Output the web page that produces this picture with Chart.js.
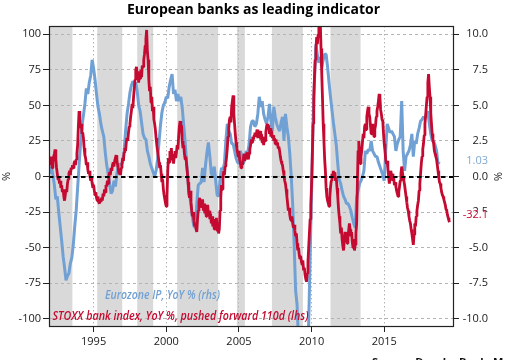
<!DOCTYPE html>
<html><head><meta charset="utf-8">
<script src="https://cdn.jsdelivr.net/npm/chart.js@4"></script>
<style>html,body{margin:0;padding:0;background:#fff}canvas{display:block}</style>
</head><body>
<canvas id="c" width="512" height="360"></canvas>
<script>
const chartTitle = "European banks as leading indicator";
const blueLegend = "Eurozone IP, YoY % (rhs)";
const redLegend = "STOXX bank index, YoY %, pushed forward 110d (lhs)";
const sourceText = "Source: Danske Bank, Macrobond";
const yearTicks = [1995, 2000, 2005, 2010, 2015];
const lhsTicks = [-100, -75, -50, -25, 0, 25, 50, 75, 100];
const rhsTicks = [-10, -7.5, -5, -2.5, 0, 2.5, 5, 7.5, 10];
const bandStarts = [1991.9, 1995.25, 1998.0, 2000.75, 2004.86, 2007.27, 2011.3];
const bandEnds   = [1993.54, 1996.97, 1999.1, 2003.57, 2005.41, 2009.4, 2013.37];

// STOXX bank index YoY %, pushed forward 110d (lhs), every 0.05 yr from 1991.95
const redStart = 1991.95, redStep = 0.05;
const redValues = [
 10,
 14,8,12,6,10,14,16,19,12,6,2,-2,0,-5,-3,-8,-6,-11,-9,-14,
 -17,-13,-9,-11,-5,-2,2,4,1,6,5,8,6,9,11,8,12,16,22,35,
 46,38,34,37,30,31,27,20,15,13,8,10,5,2,4,0,-3,0,-5,-8,
 -6,-10,-13,-11,-15,-17,-14,-18,-19,-16,-18,-15,-17,-12,-14,-9,-11,-6,-7,-3,
 -5,0,3,1,6,4,8,10,7,11,13,15,12,8,5,2,4,1,6,9,
 13,11,17,20,18,24,27,25,31,35,37,42,46,51,48,56,62,68,75,77,
 71,74,66,72,69,75,70,78,77,82,86,92,97,103,88,82,68,60,63,52,
 56,46,49,40,37,33,27,22,18,14,10,6,8,2,-4,-2,-9,-13,-16,-19,
 -21,-14,4,13,10,18,14,20,12,16,9,14,18,13,17,22,19,28,35,39,
 31,36,25,20,22,16,12,14,8,3,-4,-12,-15,-10,-18,-24,-28,-25,-31,-35,
 -33,-37,-39,-30,-24,-18,-15,-20,-17,-22,-16,-24,-19,-26,-21,-28,-23,-20,-27,-24,
 -30,-26,-33,-28,-35,-30,-37,-32,-36,-29,-38,-34,-40,-37,-24,-15,-6,-9,-2,4,
 1,7,9,14,20,28,34,40,42,38,49,53,57,44,37,30,24,20,17,14,
 18,12,9,6,10,8,12,16,11,15,13,17,14,12,16,19,22,26,24,28,
 26,29,31,28,30,33,27,31,29,32,26,30,24,28,22,27,25,31,35,37,
 33,36,30,34,28,32,27,29,25,27,23,26,22,24,20,21,18,14,11,9,
 8,4,1,-3,-5,-9,-14,-19,-24,-22,-27,-30,-31,-28,-33,-36,-34,-38,-42,-40,
 -47,-52,-50,-55,-58,-56,-60,-62,-59,-66,-64,-69,-72,-74,-68,-60,-50,-40,-30,-20,
 -5,15,37,55,70,82,90,98,93,100,104,110,108,90,72,55,37,25,12,4,
 -8,-14,-17,-19,-21,-15,-8,-3,2,-1,4,0,3,-3,-1,-8,-14,-22,-28,-33,
 -40,-36,-44,-49,-52,-45,-39,-44,-40,-47,-42,-38,-33,-37,-42,-39,-46,-50,-44,-52,
 -48,-40,-33,-5,18,25,16,9,14,18,24,30,27,35,37,33,42,46,49,44,
 42,36,30,34,37,31,28,33,36,42,46,49,53,58,56,47,44,40,39,30,
 23,18,12,9,11,6,0,-5,-2,4,1,2,-3,-1,-6,-4,-7,-10,-12,-14,
 -11,-7,-3,2,7,3,-1,-3,-6,-10,-14,-18,-22,-24,-28,-31,-33,-37,-40,-44,
 -48,-41,-33,-35,-28,-24,-20,-17,-10,-5,2,9,14,19,23,29,37,43,50,56,
 66,72,63,56,45,37,30,26,23,18,16,14,12,8,4,0,-4,-5,-8,-11,
 -13,-14,-16,-18,-20,-23,-24,-27,-29,-31,-32.1
];

// Eurozone IP YoY % (rhs), every 0.1 yr from 1992.0
const blueStart = 1992.0, blueStep = 0.1;
const blueValues = [
 0.2,0.7,0.1,-0.6,-1.6,-1.4,-2.5,-3.5,-4.5,-5.6,
 -6.4,-7.3,-7.0,-6.8,-6.1,-5.7,-4.8,-3.5,-2.4,-0.8,
 0.8,2.3,3.6,4.3,5.1,6.2,5.8,6.6,7.1,8.2,
 7.6,6.8,5.8,4.9,4.4,3.7,3.2,2.8,1.7,0.8,
 0.2,-0.5,-1.2,-1.0,-0.3,-0.7,0.2,0.7,0.9,0.8,
 1.0,1.8,3.2,4.4,5.1,5.9,6.4,6.7,6.5,6.6,
 6.0,5.0,4.6,3.8,3.0,2.7,2.6,1.8,1.4,0.9,
 0.6,0.3,0.0,0.4,1.2,2.4,3.6,4.5,5.0,5.2,
 5.6,5.5,6.3,6.8,7.2,5.8,6.1,5.3,5.8,5.3,
 5.6,4.8,3.6,2.4,1.0,-0.4,-1.2,-2.0,-2.9,-3.5,
 -3.6,-1.9,-0.6,-0.5,-0.4,0.6,-0.4,0.8,1.7,2.4,
 1.4,0.2,0.0,0.7,-0.3,-1.3,-1.4,-0.2,0.6,0.5,
 0.9,2.5,3.7,3.2,3.0,2.3,2.3,1.8,1.3,1.0,
 0.9,1.8,1.4,0.9,1.2,1.8,1.6,2.3,3.5,3.9,
 3.9,3.5,3.7,4.4,5.6,4.9,5.3,4.4,4.0,3.7,
 4.2,5.1,3.9,3.2,4.9,4.2,3.7,3.4,3.2,3.8,
 4.2,2.5,4.4,3.5,2.8,1.6,0.0,-2.0,-4.8,-8.0,
 -9.0,-11.5,-15.0,-19.0,-20.5,-20.0,-17.5,-14.0,-10.3,-5.6,
 -1.0,3.7,6.8,9.3,8.5,8.0,8.4,7.7,8.2,8.6,
 8.6,7.7,6.6,5.6,4.7,3.8,3.0,2.2,0.9,-0.2,
 -0.5,-1.0,-1.4,-1.6,-1.9,-1.9,-2.1,-2.4,-2.9,-3.3,
 -3.6,-1.5,-1.0,-0.5,-0.3,0.0,0.4,1.8,1.6,1.9,
 1.8,2.5,1.8,1.6,1.4,1.4,1.0,0.7,0.4,0.1,
 -0.3,1.8,3.7,3.4,3.1,3.2,3.0,2.8,1.8,2.3,
 2.6,2.8,5.3,1.8,0.4,1.4,1.6,1.8,2.2,3.0,
 1.4,2.5,2.3,3.0,3.4,3.9,4.0,4.2,4.1,4.4,
 4.6,3.7,3.0,2.5,2.5,2.2,1.8,0.9,1.03
];

const RED = '#c40a30', BLUE = '#71a1d4';
const FONT = "'Open Sans', 'Liberation Sans', sans-serif";
const redData = redValues.map((v, i) => ({x: redStart + i * redStep, y: v}));
const blueData = blueValues.map((v, i) => ({x: blueStart + i * blueStep, y: v}));

function fitText(ctx, text, x, y, w, align) {
  const m = ctx.measureText(text).width;
  ctx.save();
  ctx.translate(x, y);
  ctx.scale(w / m, 1);
  ctx.textAlign = align;
  ctx.fillText(text, 0, 0);
  ctx.restore();
}

const decor = {
  id: 'decor',
  beforeDraw(chart) {
    const {ctx, chartArea: a, scales: {x}} = chart;
    ctx.save();
    ctx.fillStyle = '#fff';
    ctx.fillRect(0, 0, chart.width, chart.height);
    ctx.beginPath();
    ctx.rect(a.left, a.top, a.right - a.left, a.bottom - a.top);
    ctx.clip();
    ctx.fillStyle = '#d9d9d9';
    bandStarts.forEach((s, i) => {
      const x0 = x.getPixelForValue(s), x1 = x.getPixelForValue(bandEnds[i]);
      ctx.fillRect(x0, a.top, x1 - x0, a.bottom - a.top);
    });
    ctx.restore();
  },
  afterDraw(chart) {
    const {ctx, chartArea: a, scales: {y, y1}} = chart;
    ctx.save();
    // zero line
    const y0 = Math.round(y.getPixelForValue(0));
    ctx.strokeStyle = '#000';
    ctx.lineWidth = 2;
    ctx.setLineDash([4.5, 3.5]);
    ctx.beginPath(); ctx.moveTo(a.left, y0); ctx.lineTo(a.right, y0); ctx.stroke();
    ctx.setLineDash([]);
    // frame
    ctx.lineWidth = 1.2;
    ctx.strokeStyle = '#222';
    ctx.strokeRect(a.left + 0.5, a.top + 0.5, a.right - a.left - 1, a.bottom - a.top - 1);
    // title
    ctx.fillStyle = '#000';
    ctx.font = "bold 14px " + FONT;
    ctx.textBaseline = 'alphabetic';
    fitText(ctx, chartTitle, 253.5, 13.5, 253, 'center');
    // legend texts
    ctx.font = "italic 600 12px " + FONT;
    ctx.fillStyle = BLUE;
    fitText(ctx, blueLegend, 105, 298.5, 115, 'left');
    ctx.fillStyle = RED;
    fitText(ctx, redLegend, 52.5, 319.5, 256, 'left');
    // right axis title
    ctx.font = "11px " + FONT;
    ctx.fillStyle = '#1a1a1a';
    ctx.save();
    ctx.translate(497.5, (a.top + a.bottom) / 2);
    ctx.rotate(Math.PI / 2);
    ctx.textAlign = 'center';
    ctx.textBaseline = 'middle';
    ctx.fillText('%', 0, 0);
    ctx.restore();
    // end labels
    ctx.textBaseline = 'middle';
    ctx.textAlign = 'right';
    const bLast = blueValues[blueValues.length - 1];
    const rLast = redValues[redValues.length - 1];
    const bTxt = bLast.toFixed(2), rTxt = rLast.toFixed(1);
    const by = y1.getPixelForValue(bLast) - 1;
    const ry = y.getPixelForValue(rLast) - 7;
    ctx.fillStyle = '#fff';
    ctx.fillRect(488 - ctx.measureText(rTxt).width - 1, ry - 3, ctx.measureText(rTxt).width + 2, 9);
    ctx.fillStyle = '#7fa9d3';
    ctx.fillText(bTxt, 488, by);
    ctx.fillStyle = RED;
    ctx.fillText(rTxt, 488, ry);
    // source (cut at bottom edge)
    ctx.font = "bold 11px " + FONT;
    ctx.fillStyle = '#111';
    ctx.textAlign = 'left';
    ctx.textBaseline = 'top';
    ctx.fillText(sourceText, 372, 357.5);
    ctx.restore();
  }
};

const tickFont = {family: FONT, size: 11};
new Chart(document.getElementById('c'), {
  type: 'line',
  data: {
    datasets: [
      {label: redLegend, data: redData, yAxisID: 'y', borderColor: RED, borderWidth: 2.8,
       pointRadius: 0, tension: 0, borderJoinStyle: 'bevel', order: 0},
      {label: blueLegend, data: blueData, yAxisID: 'y1', borderColor: BLUE, borderWidth: 3,
       pointRadius: 0, tension: 0, borderJoinStyle: 'bevel', order: 1}
    ]
  },
  options: {
    responsive: false, animation: false, devicePixelRatio: 1,
    parsing: false, normalized: true,
    layout: {padding: {top: 26, bottom: 0, left: 0, right: 24}},
    plugins: {legend: {display: false}, tooltip: {enabled: false}, title: {display: false}},
    scales: {
      x: {
        type: 'linear', min: 1991.93, max: 2019.8,
        afterBuildTicks: s => { s.ticks = yearTicks.map(v => ({value: v})); },
        afterFit: s => { s.height = 33; },
        ticks: {font: tickFont, color: '#1a1a1a', padding: 3, maxRotation: 0, callback: v => String(v)},
        grid: {color: '#b4b4b4', lineWidth: 1, tickLength: 5, tickColor: '#222', tickWidth: 1, tickBorderDash: []},
        border: {display: false, dash: [1.5, 2.5]}
      },
      y: {
        position: 'left', min: -105.8, max: 105.8,
        afterBuildTicks: s => { s.ticks = lhsTicks.map(v => ({value: v})); },
        afterFit: s => { s.width = 49; },
        ticks: {font: tickFont, color: '#1a1a1a', padding: 2, callback: v => String(v)},
        grid: {color: '#b4b4b4', lineWidth: 1, tickLength: 6, tickColor: '#222', tickWidth: 1, tickBorderDash: []},
        border: {display: false, dash: [3, 3]},
        title: {display: true, text: '%', font: tickFont, color: '#1a1a1a', padding: {top: 0, bottom: 0}}
      },
      y1: {
        position: 'right', min: -10.58, max: 10.58,
        afterBuildTicks: s => { s.ticks = rhsTicks.map(v => ({value: v})); },
        afterFit: s => { s.width = 34; },
        ticks: {font: tickFont, color: '#1a1a1a', padding: 3, crossAlign: 'far', callback: v => v.toFixed(1)},
        grid: {drawOnChartArea: false, tickLength: 5, tickColor: '#222', tickWidth: 1, tickBorderDash: []},
        border: {display: false}
      }
    }
  },
  plugins: [decor]
});
</script>
</body></html>
